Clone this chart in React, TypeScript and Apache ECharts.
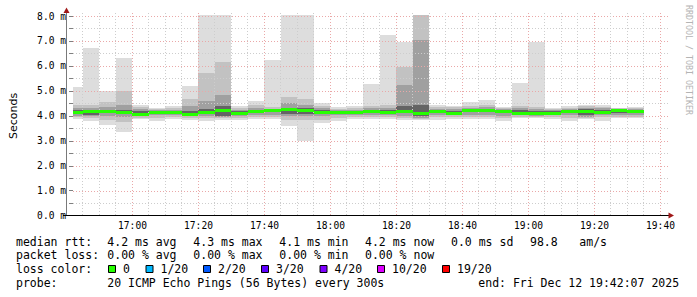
import React, { useEffect, useRef } from "react";
import * as echarts from "echarts";

// 5-minute steps (end time of each step), last 3 hours ending 19:42:07
const stepEnds = [
  "16:45", "16:50", "16:55", "17:00", "17:05", "17:10", "17:15", "17:20", "17:25", "17:30",
  "17:35", "17:40", "17:45", "17:50", "17:55", "18:00", "18:05", "18:10", "18:15", "18:20",
  "18:25", "18:30", "18:35", "18:40", "18:45", "18:50", "18:55", "19:00", "19:05", "19:10",
  "19:15", "19:20", "19:25", "19:30", "19:35",
];
// smoke layers (ms): outer = min/max, then narrower bands toward the median
const pingMax = [5.14, 6.73, 5.01, 6.32, 4.43, 4.30, 4.38, 5.20, 8.04, 8.04, 4.39, 4.59, 6.24, 8.04, 8.04, 4.50, 4.34, 4.38, 5.28, 7.24, 6.97, 8.04, 4.43, 4.39, 4.54, 4.65, 4.37, 5.32, 6.97, 4.33, 4.39, 4.43, 4.43, 4.33, 4.36];
const pingHi2 = [4.45, 4.45, 4.56, 5.00, 4.35, 4.26, 4.30, 4.69, 5.73, 6.17, 4.32, 4.42, 4.35, 4.77, 4.67, 4.40, 4.28, 4.30, 4.40, 4.45, 5.95, 8.04, 4.35, 4.34, 4.40, 4.45, 4.32, 4.40, 4.35, 4.28, 4.33, 4.38, 4.36, 4.30, 4.32];
const pingHi3 = [4.30, 4.30, 4.35, 4.45, 4.28, 4.22, 4.25, 4.40, 4.60, 4.84, 4.25, 4.32, 4.28, 4.51, 4.43, 4.30, 4.22, 4.25, 4.30, 4.30, 5.24, 7.04, 4.28, 4.28, 4.32, 4.35, 4.28, 4.30, 4.28, 4.22, 4.28, 4.33, 4.30, 4.27, 4.28];
const pingHi4 = [4.22, 4.24, 4.25, 4.22, 4.20, 4.18, 4.20, 4.20, 4.28, 4.40, 4.18, 4.25, 4.25, 4.32, 4.32, 4.22, 4.18, 4.20, 4.24, 4.22, 4.40, 4.45, 4.22, 4.20, 4.28, 4.29, 4.24, 4.22, 4.20, 4.18, 4.25, 4.28, 4.24, 4.25, 4.25];
const medianRtt = [4.17, 4.21, 4.19, 4.14, 4.09, 4.15, 4.15, 4.09, 4.17, 4.25, 4.11, 4.21, 4.23, 4.27, 4.23, 4.14, 4.14, 4.15, 4.20, 4.17, 4.21, 4.10, 4.19, 4.13, 4.25, 4.25, 4.21, 4.13, 4.10, 4.13, 4.21, 4.21, 4.14, 4.22, 4.20];
const pingLo4 = [4.08, 4.05, 4.10, 4.06, 4.04, 4.08, 4.10, 4.04, 4.08, 4.00, 4.05, 4.12, 4.15, 4.08, 4.08, 4.08, 4.08, 4.10, 4.12, 4.10, 4.10, 3.98, 4.10, 4.08, 4.15, 4.14, 4.10, 4.08, 4.06, 4.08, 4.12, 4.02, 4.08, 4.12, 4.12];
const pingLo3 = [4.00, 3.98, 4.00, 3.95, 3.98, 4.02, 4.03, 3.98, 4.00, 3.95, 4.00, 4.05, 4.05, 4.00, 3.98, 4.00, 4.02, 4.03, 4.05, 4.03, 4.00, 3.92, 4.03, 4.02, 4.05, 4.05, 4.00, 4.02, 4.00, 4.02, 4.02, 3.96, 4.02, 4.05, 4.05];
const pingLo2 = [3.94, 3.92, 3.85, 3.75, 3.92, 3.92, 3.95, 3.92, 3.92, 3.90, 3.93, 3.95, 3.95, 3.85, 3.85, 3.85, 3.92, 3.95, 3.95, 3.95, 3.92, 3.88, 3.95, 3.95, 3.95, 3.95, 3.90, 3.95, 3.95, 3.95, 3.92, 3.92, 3.94, 3.95, 3.97];
const pingMin = [3.86, 3.81, 3.63, 3.37, 3.86, 3.80, 3.86, 3.84, 3.81, 3.84, 3.84, 3.86, 3.86, 3.61, 2.99, 3.73, 3.80, 3.86, 3.88, 3.86, 3.84, 3.84, 3.84, 3.88, 3.88, 3.88, 3.80, 3.90, 3.90, 3.88, 3.80, 3.86, 3.80, 3.90, 3.92];

const xTickLabels = ["17:00", "17:20", "17:40", "18:00", "18:20", "18:40", "19:00", "19:20", "19:40"];
const yMajorTicks = [1, 2, 3, 4, 5, 6, 7, 8];
const yMinorTicks = [0.5, 1.5, 2.5, 3.5, 4.5, 5.5, 6.5, 7.5];

const legendRtt = ["4.2 ms avg", "4.3 ms max", "4.1 ms min", "4.2 ms now", "0.0 ms sd", "98.8", "am/s"];
const legendLoss = ["0.00 % avg", "0.00 % max", "0.00 % min", "0.00 % now"];
const lossLabels = ["0", "1/20", "2/20", "3/20", "4/20", "10/20", "19/20"];
const lossColors = ["#26ff00", "#00b8ff", "#0059ff", "#5e00ff", "#7e00ff", "#dd00ff", "#ff0000"];
const probeText = "20 ICMP Echo Pings (56 Bytes) every 300s";
const endText = "end: Fri Dec 12 19:42:07 2025";

const START = "16:42:07";
const END = "19:42:07";

const toMin = (s: string) => {
  const p = s.split(":").map(Number);
  return (p[0] - 16) * 60 + p[1] + (p[2] || 0) / 60;
};
const X_MIN = toMin(START);
const X_MAX = toMin(END);
const STEP = 5;

const layerColors = ["#dddddd", "#c2c2c2", "#a0a0a0", "#646464"];
const MONO = "DejaVu Sans Mono";

export default function App() {
  const ref = useRef<HTMLDivElement>(null);
  useEffect(() => {
    document.body.style.margin = "0";
    const chart = echarts.init(ref.current!, null, { renderer: "svg" });

    const smokeData = stepEnds.map((s, i) => {
      const e = toMin(s);
      return [e - STEP, e, pingMin[i], pingMax[i], pingLo2[i], pingHi2[i], pingLo3[i], pingHi3[i], pingLo4[i], pingHi4[i]];
    });
    const medianData = stepEnds.map((s, i) => {
      const e = toMin(s);
      return [e - STEP, e, medianRtt[i]];
    });

    const majorX = xTickLabels.map(toMin);
    const gridData: number[][] = [];
    yMinorTicks.forEach((v) => gridData.push([0, v]));
    yMajorTicks.forEach((v) => gridData.push([1, v]));
    for (let m = Math.ceil(X_MIN / STEP) * STEP; m <= X_MAX; m += STEP) {
      if (majorX.indexOf(m) < 0) gridData.push([2, m]);
    }
    majorX.forEach((m) => gridData.push([3, m]));

    const labelData = xTickLabels.map((l) => [toMin(l), 0]);

    const legendTexts: any[] = [];
    const addText = (x: number, y: number, t: string) =>
      legendTexts.push({
        type: "text",
        x,
        y,
        style: { text: t, fontFamily: MONO, fontSize: 11.5, fill: "#000", verticalAlign: "middle" },
      });
    const colX = [107.3, 193.3, 279.3, 365, 451, 530, 579.3];
    addText(16, 241.5, "median rtt:");
    legendRtt.forEach((t, i) => addText(colX[i], 241.5, t));
    addText(16, 255.3, "packet loss:");
    legendLoss.forEach((t, i) => addText(colX[i], 255.3, t));
    addText(16, 269.2, "loss color:");
    const boxX = [108.5, 146, 203.5, 261.5, 320, 377.5, 442.5];
    lossLabels.forEach((t, i) => {
      legendTexts.push({
        type: "rect",
        shape: { x: boxX[i], y: 265.5, width: 7, height: 7 },
        style: { fill: lossColors[i], stroke: "#000", lineWidth: 1 },
      });
      addText(boxX[i] + 14.5, 269.2, t);
    });
    addText(16, 282.9, "probe:");
    addText(107.3, 282.9, probeText);
    addText(478.3, 282.9, endText);

    chart.setOption({
      animation: false,
      backgroundColor: "#ffffff",
      grid: { left: 67, top: 16, width: 600, height: 199.7 },
      xAxis: { type: "value", min: X_MIN, max: X_MAX, show: false },
      yAxis: {
        type: "value",
        min: 0,
        max: 8,
        interval: 1,
        name: "Seconds",
        nameLocation: "middle",
        nameGap: 54,
        nameRotate: 90,
        nameTextStyle: { fontFamily: "DejaVu Sans", fontSize: 11, color: "#000" },
        axisLine: { show: false },
        axisTick: { show: true, length: 4, lineStyle: { color: "#808080" } },
        minorTick: { show: true, splitNumber: 2, length: 4, lineStyle: { color: "#808080" } },
        splitLine: { show: false },
        axisLabel: {
          margin: 7,
          fontFamily: MONO,
          fontSize: 9.6,
          color: "#000",
          formatter: (v: number) => v.toFixed(1) + " m",
        },
      },
      series: [
        {
          type: "custom",
          name: "smoke",
          z: 2,
          data: smokeData,
          encode: { x: [0, 1], y: [2, 3] },
          renderItem: (params: any, api: any) => {
            const t1 = Math.max(api.value(0), X_MIN);
            const t2 = api.value(1);
            const children: any[] = [];
            for (let k = 0; k < 4; k++) {
              const lo = api.value(2 + 2 * k);
              const hi = api.value(3 + 2 * k);
              const a = api.coord([t1, hi]);
              const b = api.coord([t2, lo]);
              const x1 = Math.round(a[0]);
              const x2 = Math.round(b[0]);
              const y1 = Math.round(a[1]);
              const y2 = Math.round(b[1]);
              children.push({
                type: "rect",
                shape: { x: x1, y: y1, width: x2 - x1, height: Math.max(0, y2 - y1) },
                style: { fill: layerColors[k] },
              });
            }
            return { type: "group", children };
          },
        },
        {
          type: "custom",
          name: "grid",
          z: 3,
          silent: true,
          data: gridData,
          encode: { x: 1, y: 1 },
          renderItem: (params: any, api: any) => {
            const kind = api.value(0);
            const v = api.value(1);
            const major = kind === 1 || kind === 3;
            const color = major ? "#eaa8a8" : "#cdcdcd";
            let shape;
            if (kind < 2) {
              const a = api.coord([X_MIN, v]);
              const b = api.coord([X_MAX, v]);
              const y = Math.round(a[1]) + 0.5;
              shape = { x1: Math.round(a[0]), y1: y, x2: Math.round(b[0]) + 1, y2: y };
            } else {
              const a = api.coord([v, 8]);
              const b = api.coord([v, 0]);
              const x = Math.floor(a[0]) + 0.5;
              shape = { x1: x, y1: Math.round(a[1]) - 3, x2: x, y2: Math.round(b[1]) };
            }
            return { type: "line", shape, style: { stroke: color, lineWidth: 1, lineDash: [1, 2] } };
          },
        },
        {
          type: "custom",
          name: "median",
          z: 4,
          data: medianData,
          encode: { x: [0, 1], y: 2 },
          renderItem: (params: any, api: any) => {
            const t1 = Math.max(api.value(0), X_MIN);
            const a = api.coord([t1, api.value(2)]);
            const b = api.coord([api.value(1), api.value(2)]);
            const y = Math.round(a[1]);
            return {
              type: "rect",
              shape: { x: Math.round(a[0]), y: y - 1, width: Math.round(b[0]) - Math.round(a[0]), height: 3 },
              style: { fill: lossColors[0] },
            };
          },
        },
        {
          type: "custom",
          name: "xlabels",
          z: 5,
          data: labelData,
          encode: { x: 0, y: 1 },
          renderItem: (params: any, api: any) => {
            const p = api.coord([api.value(0), 0]);
            const idx = params.dataIndex;
            return {
              type: "text",
              x: Math.floor(p[0]) + 0.5,
              y: p[1] + 9.5,
              style: {
                text: xTickLabels[idx],
                fontFamily: MONO,
                fontSize: 9.6,
                fill: "#000",
                align: "center",
                verticalAlign: "middle",
              },
            };
          },
        },
      ],
      graphic: [
        { type: "line", shape: { x1: 66.5, y1: 12, x2: 66.5, y2: 216 }, style: { stroke: "#7a7a7a", lineWidth: 1 }, z: 10 },
        { type: "line", shape: { x1: 63, y1: 215.5, x2: 670, y2: 215.5 }, style: { stroke: "#000", lineWidth: 1 }, z: 10 },
        { type: "polygon", shape: { points: [[63.5, 13], [66.5, 7.5], [69.5, 13]] }, style: { fill: "#a01818" }, z: 10 },
        { type: "polygon", shape: { points: [[668.5, 212.5], [674, 215.5], [668.5, 218.5]] }, style: { fill: "#a01818" }, z: 10 },
        {
          type: "text",
          x: 688.5,
          y: 60,
          rotation: -Math.PI / 2,
          style: {
            text: "RRDTOOL / TOBI OETIKER",
            fontFamily: MONO,
            fontSize: 8.3,
            fill: "#b4b4b4",
            align: "center",
            verticalAlign: "middle",
          },
        },
        ...legendTexts,
      ],
    });
    return () => chart.dispose();
  }, []);
  return <div ref={ref} style={{ width: 697, height: 297 }} />;
}
